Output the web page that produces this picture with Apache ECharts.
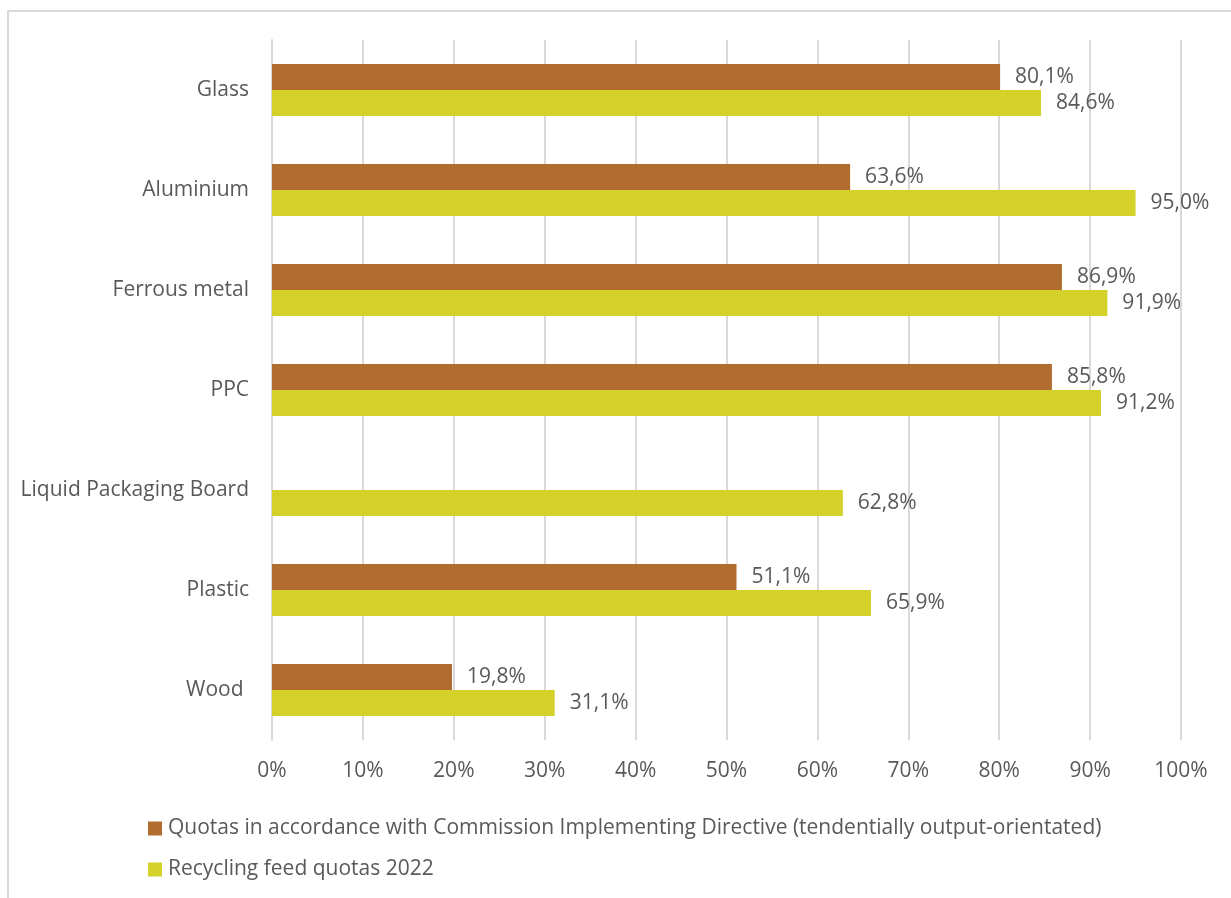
<!DOCTYPE html>
<html>
<head>
<meta charset="utf-8">
<script src="https://cdn.jsdelivr.net/npm/echarts@6/dist/echarts.min.js"></script>
<style>
  html, body { margin: 0; padding: 0; background: #fff; }
  #frame { position: absolute; left: 7px; top: 10px; width: 1230px; height: 900px;
           border-left: 2px solid #d9d9d9; border-top: 2px solid #d9d9d9; box-sizing: border-box; }
  #chart { position: absolute; left: 0; top: 0; width: 1231px; height: 898px; }
</style>
</head>
<body>
<div id="frame"></div>
<div id="chart"></div>
<script>
// Recycling quotas by packaging material
const categories = ['Glass', 'Aluminium', 'Ferrous metal', 'PPC', 'Liquid Packaging Board', 'Plastic', 'Wood '];
const quotasDirective = [80.1, 63.6, 86.9, 85.8, null, 51.1, 19.8];
const recyclingFeed2022 = [84.6, 95.0, 91.9, 91.2, 62.8, 65.9, 31.1];
const seriesNames = [
  'Quotas in accordance with Commission Implementing Directive (tendentially output-orientated)',
  'Recycling feed quotas 2022'
];
const xTicks = [0, 10, 20, 30, 40, 50, 60, 70, 80, 90, 100];

const FONT = 'Open Sans';
const TEXT = '#595959';
const FS = 21;

const fmt = v => v.toFixed(1).replace('.', ',') + '%';

const chart = echarts.init(document.getElementById('chart'), null, { renderer: 'canvas' });
chart.setOption({
  animation: false,
  textStyle: { fontFamily: FONT },
  grid: { left: 272, right: 50, top: 40, bottom: 158, containLabel: false },
  xAxis: {
    type: 'value', min: xTicks[0], max: xTicks[xTicks.length - 1], interval: 10,
    axisLine: { show: false }, axisTick: { show: false },
    splitLine: { lineStyle: { color: '#d9d9d9', width: 2 } },
    axisLabel: { formatter: v => v + '%', color: TEXT, fontSize: FS, fontFamily: FONT, margin: 21 }
  },
  yAxis: {
    type: 'category', data: categories, inverse: true,
    axisLine: { show: true, lineStyle: { color: '#d9d9d9', width: 2 } },
    axisTick: { show: false },
    axisLabel: { color: TEXT, fontSize: FS, fontFamily: FONT, margin: 23 }
  },
  legend: {
    orient: 'vertical', left: 143, top: 813, itemWidth: 14, itemHeight: 14, itemGap: 20,
    icon: 'rect',
    textStyle: { color: TEXT, fontSize: FS, fontFamily: FONT, padding: [0, 0, 0, 1] },
    data: seriesNames
  },
  series: [
    {
      name: seriesNames[0], type: 'bar', data: quotasDirective, barWidth: 26, barGap: '0%',
      itemStyle: { color: '#b06d2f' },
      label: { show: true, position: 'right', distance: 15, color: TEXT, fontSize: FS,
               fontFamily: FONT, formatter: p => fmt(p.value) }
    },
    {
      name: seriesNames[1], type: 'bar', data: recyclingFeed2022, barWidth: 26, barGap: '0%',
      itemStyle: { color: '#d4d12a' },
      label: { show: true, position: 'right', distance: 15, color: TEXT, fontSize: FS,
               fontFamily: FONT, formatter: p => fmt(p.value) }
    }
  ]
});
</script>
</body>
</html>
